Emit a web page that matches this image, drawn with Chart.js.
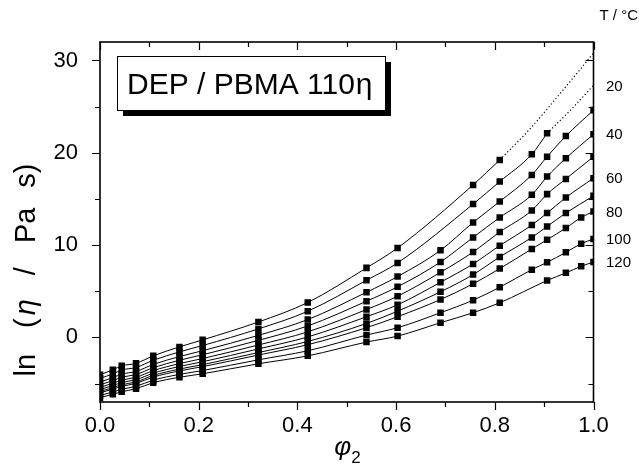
<!DOCTYPE html>
<html>
<head>
<meta charset="utf-8">
<script src="https://cdn.jsdelivr.net/npm/chart.js@4/dist/chart.umd.min.js"></script>
<style>
  html, body { margin: 0; padding: 0; background: #fff; }
  #c { display: block; }
</style>
</head>
<body>
<canvas id="c" width="639" height="466"></canvas>
<script>
// ---- data ----
const phi = [0.0, 0.026, 0.044, 0.073, 0.108, 0.161, 0.208, 0.321, 0.421, 0.540, 0.603, 0.690, 0.756, 0.810, 0.875, 0.906, 0.944, 0.975, 1.000];
const temps = [10, 20, 30, 40, 50, 60, 70, 80, 100, 120];
const ln10  = [-4.05,-3.51,-3.08,-2.81,-2.00,-1.03,-0.27, 1.67, 3.78, 7.53, 9.69, null,16.52,19.22, null, null, null, null, null];
const ln20  = [-4.46,-3.95,-3.54,-3.26,-2.48,-1.57,-0.88, 0.92, 2.83, 6.19, 8.07, null,14.44,16.88,19.84,22.11, null, null, null];
const ln30  = [-4.84,-4.36,-3.98,-3.69,-2.93,-2.08,-1.44, 0.22, 1.93, 4.89, 6.59, 9.43,12.45,14.72,17.60,19.58,21.81, null,24.62];
const ln40  = [-5.14,-4.68,-4.32,-4.02,-3.28,-2.48,-1.88,-0.32, 1.24, 3.92, 5.48, 8.17,10.83,12.99,15.44,17.42,19.41, null,22.00];
const ln50  = [-5.41,-4.97,-4.63,-4.32,-3.60,-2.84,-2.29,-0.82, 0.60, 3.02, 4.46, 7.05, 9.25,11.41,13.75,15.52,17.17, null,19.58];
const ln60  = [-5.65,-5.22,-4.89,-4.58,-3.88,-3.15,-2.64,-1.25, 0.05, 2.24, 3.53, 5.97, 7.96, 9.94,12.17,13.47,15.15, null,17.25];
const ln70  = [-5.86,-5.44,-5.13,-4.82,-4.12,-3.43,-2.95,-1.64,-0.44, 1.51, 2.84, 4.94, 6.80, 8.71,10.83,12.02,13.47, null,15.33];
const ln80  = [-6.01,-5.60,-5.30,-4.98,-4.30,-3.63,-3.17,-1.91,-0.79, 1.05, 2.24, 4.10, 5.80, 7.45, 9.58,10.58,11.85,12.99,13.64];
const ln100 = [-6.29,-5.91,-5.62,-5.30,-4.63,-4.01,-3.59,-2.43,-1.45, 0.25, 1.05, 2.67, 4.03, 5.43, 7.34, 8.13, 9.21,10.15,10.66];
const ln120 = [-6.53,-6.16,-5.89,-5.56,-4.91,-4.32,-3.94,-2.86,-2.00,-0.51, 0.14, 1.59, 2.67, 3.75, null, 6.16, 6.99, 7.70, 8.17];
// dotted extrapolations
const phiExt10 = [0.810, 0.868, 0.940, 1.000];
const lnExt10  = [19.22, 22.4, 26.9, 30.8];
const phiExt20 = [0.906, 0.953, 1.000];
const lnExt20  = [22.11, 24.6, 27.3];
const labelledTemps = [20, 40, 60, 80, 100, 120];
const xTickValues = [0, 0.1, 0.2, 0.3, 0.4, 0.5, 0.6, 0.7, 0.8, 0.9, 1.0];
const xTickLabels = ['0.0', '', '0.2', '', '0.4', '', '0.6', '', '0.8', '', '1.0'];
const yTickValues = [-5, 0, 5, 10, 15, 20, 25, 30];
const yTickLabels = ['', '0', '', '10', '', '20', '', '30'];

const solid = [ln10, ln20, ln30, ln40, ln50, ln60, ln70, ln80, ln100, ln120];
const FONT = '"Liberation Sans", Arial, Helvetica, sans-serif';

function pts(xs, ys) {
  const out = [];
  xs.forEach((v, i) => { if (ys[i] !== null) out.push({ x: v, y: ys[i] }); });
  return out;
}

const datasets = solid.map((arr, i) => ({
  label: temps[i] + ' °C',
  data: pts(phi, arr),
  borderColor: '#000',
  backgroundColor: '#000',
  borderWidth: 1,
  pointStyle: 'rect',
  pointRadius: 4.6,
  pointBorderWidth: 0,
  cubicInterpolationMode: 'monotone',
  fill: false
}));
[[phiExt10, lnExt10, 10], [phiExt20, lnExt20, 20]].forEach(([xs, ys, t]) => {
  datasets.push({
    label: t + ' °C (extrapolated)',
    data: pts(xs, ys),
    borderColor: '#000',
    borderWidth: 1.2,
    borderDash: [1.2, 2.4],
    pointRadius: 0,
    cubicInterpolationMode: 'monotone',
    fill: false
  });
});

function lastValue(t) {
  if (t === 10) return lnExt10[lnExt10.length - 1];
  if (t === 20) return lnExt20[lnExt20.length - 1];
  const arr = solid[temps.indexOf(t)];
  for (let i = arr.length - 1; i >= 0; i--) if (arr[i] !== null) return arr[i];
  return null;
}

const decor = {
  id: 'decor',
  afterDraw(chart) {
    const { ctx, chartArea: a, scales: { x, y } } = chart;
    ctx.save();
    ctx.strokeStyle = '#000';
    ctx.fillStyle = '#000';
    // frame
    ctx.lineWidth = 1.6;
    ctx.strokeRect(a.left, a.top, a.right - a.left, a.bottom - a.top);
    // ticks
    ctx.lineWidth = 1.2;
    ctx.beginPath();
    xTickValues.forEach((v, i) => {
      const px = Math.round(x.getPixelForValue(v)) + 0.5;
      const L = xTickLabels[i] ? 8 : 5;
      ctx.moveTo(px, a.bottom); ctx.lineTo(px, a.bottom + L);
      ctx.moveTo(px, a.top); ctx.lineTo(px, a.top + L);
    });
    yTickValues.forEach((v, i) => {
      const py = Math.round(y.getPixelForValue(v)) + 0.5;
      const L = yTickLabels[i] ? 8 : 5;
      ctx.moveTo(a.left - L, py); ctx.lineTo(a.left, py);
      ctx.moveTo(a.right - L, py); ctx.lineTo(a.right, py);
    });
    ctx.stroke();

    // y axis title: ln (η / Pa s)
    ctx.save();
    ctx.translate(27, 270);
    ctx.rotate(-Math.PI / 2);
    ctx.textBaseline = 'middle';
    ctx.textAlign = 'left';
    const F = '29px ' + FONT;
    const parts = [['ln', F], ['(', F], ['η', 'italic ' + F], ['/', F], ['Pa', F], ['s)', F]];
    const gaps = [26, 3, 24, 24, 20];
    let total = 0;
    parts.forEach(p => { ctx.font = p[1]; total += ctx.measureText(p[0]).width; });
    gaps.forEach(g => total += g);
    let cx = -total / 2;
    parts.forEach((p, i) => {
      ctx.font = p[1];
      ctx.fillText(p[0], cx, 0);
      cx += ctx.measureText(p[0]).width + (i < gaps.length ? gaps[i] : 0);
    });
    ctx.restore();

    // x axis title: φ2
    ctx.textBaseline = 'alphabetic';
    ctx.textAlign = 'left';
    ctx.font = 'italic 26px ' + FONT;
    const phW = ctx.measureText('φ').width;
    const xc = (a.left + a.right) / 2;
    ctx.fillText('φ', xc - phW / 2 - 4, 455);
    ctx.font = '17px ' + FONT;
    ctx.fillText('2', xc + phW / 2 - 4, 463);

    // title box with shadow
    const bx = 117, by = 56, bw = 268, bh = 54;
    ctx.fillStyle = '#000';
    ctx.fillRect(bx + 6, by + 6, bw, bh);
    ctx.fillStyle = '#fff';
    ctx.fillRect(bx, by, bw, bh);
    ctx.lineWidth = 1;
    ctx.strokeRect(bx + 0.5, by + 0.5, bw, bh);
    ctx.fillStyle = '#000';
    ctx.font = '30px ' + FONT;
    ctx.textBaseline = 'alphabetic';
    const t1 = 'DEP / PBMA 110';
    ctx.fillText(t1, bx + 10, by + 38);
    const w1 = ctx.measureText(t1).width;
    ctx.fillText('η', bx + 10 + w1 + 1, by + 38);

    // temperature labels on the right
    ctx.font = '15px ' + FONT;
    ctx.textBaseline = 'middle';
    ctx.textAlign = 'right';
    ctx.fillText('T / °C', 638, 16);
    ctx.textAlign = 'left';
    labelledTemps.forEach(t => {
      const v = lastValue(t);
      ctx.fillText(String(t), 606, y.getPixelForValue(v) + 1);
    });
    ctx.restore();
  }
};

new Chart(document.getElementById('c'), {
  type: 'line',
  data: { datasets },
  options: {
    responsive: false,
    animation: false,
    layout: { padding: { left: 0, top: 42, right: 45.5, bottom: 0 } },
    plugins: { legend: { display: false }, title: { display: false }, tooltip: { enabled: false } },
    scales: {
      x: {
        type: 'linear', min: 0, max: 1,
        grid: { display: false }, border: { display: false },
        afterFit(s) { s.height = 64; },
        afterBuildTicks(s) { s.ticks = xTickValues.map(v => ({ value: v })); },
        ticks: {
          autoSkip: false, maxRotation: 0, padding: 3,
          color: '#000', font: { family: FONT, size: 22 },
          callback(v, i) { return xTickLabels[i]; }
        }
      },
      y: {
        type: 'linear', min: -7, max: 32,
        grid: { display: false }, border: { display: false },
        afterFit(s) { s.width = 100; },
        afterBuildTicks(s) { s.ticks = yTickValues.map(v => ({ value: v })); },
        ticks: {
          autoSkip: false, padding: 14,
          color: '#000', font: { family: FONT, size: 22 },
          callback(v, i) { return yTickLabels[i]; }
        }
      }
    }
  },
  plugins: [decor]
});
</script>
</body>
</html>
